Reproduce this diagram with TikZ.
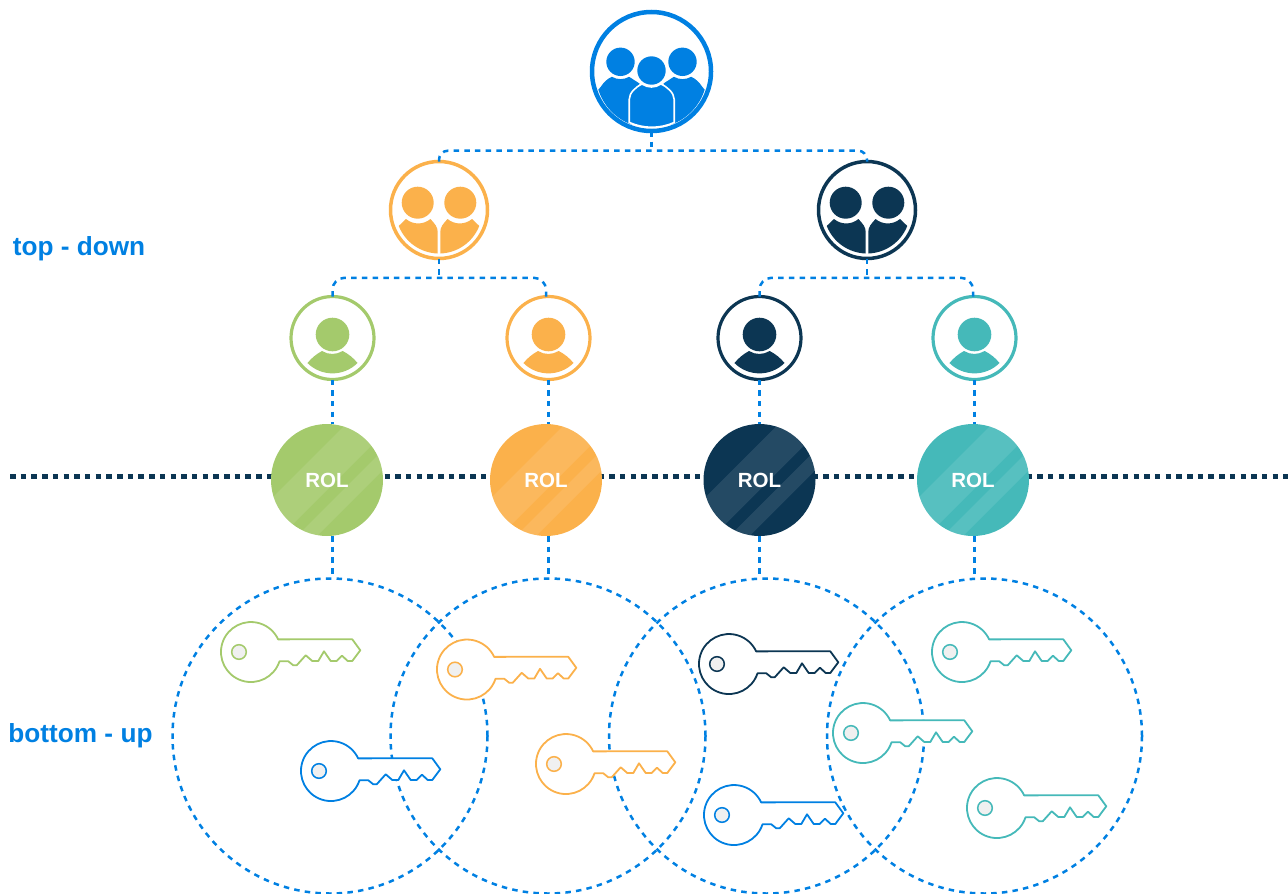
\documentclass[tikz,border=0pt]{standalone}
\usepackage{fontspec}
\setmainfont{Liberation Sans}
\definecolor{rolblue}{HTML}{0080E2}
\definecolor{rolgreen}{HTML}{A4CA6C}
\definecolor{rolorange}{HTML}{FBB14B}
\definecolor{rolnavy}{HTML}{0C3653}
\definecolor{rolteal}{HTML}{45B9B9}
\tikzset{
	usernode/.style={circle,fill=white,inner sep=0,outer sep=0},
	rolnode/.style={circle,inner sep=0,outer sep=0,minimum size=112,text=white,
		font=\fontsize{20.5}{20.5}\selectfont\bfseries},
	zonenode/.style={circle,inner sep=0,outer sep=0,minimum size=315,draw=rolblue,link},
	link/.style={rolblue,line width=2.5,dash pattern=on 5.5 off 5.2},
	divider/.style={rolnavy,line width=5.5,dash pattern=on 5.5 off 5.2},
	sidelabel/.style={rolblue,inner sep=0,font=\fontsize{26.2}{26.2}\selectfont\bfseries}
}
\begin{document}
\begin{tikzpicture}[x=1pt,y=-1pt]
\useasboundingbox (0,0) rectangle (1288,894);
% Divider behind the roles
\coordinate (divleft) at (10,476.5);
\coordinate (divright) at (1288,476.5);
\draw[divider] (divleft) -- (divright);
% Draw group on top
\node[usernode,draw=rolblue,line width=4.5,minimum size=119] (lead) at (651.5,71.5) {};
\begin{scope}[shift={(651.5,71.5)},rolblue]
	\foreach \s in {1,-1} {
		\begin{scope}[xscale=\s]
			\fill (-31,-9.7) circle [radius=14.2];
			\fill (-51,15.7) .. controls (-48,11) and (-44,7) .. (-39.65,5.3)
				arc (120:60:17.3) -- (-12,12) -- (-20,53) arc (110:163:54) -- cycle;
		\end{scope}
	}
	% Draw front person
	\fill[draw=white,line width=1.6] (-22.3,51) -- (-22.3,28)
		.. controls (-22.3,21) and (-15,15) .. (-9.5,12.5)
		arc (125:55:16.5) .. controls (15,15) and (22.7,21) .. (22.7,28)
		-- (22.7,51) arc (66:114:55) -- cycle;
	\fill (0,-1) circle [radius=14.2];
\end{scope}
% Draw the two teams
\foreach \n/\x/\c in {teamA/439/rolorange,teamB/867/rolnavy} {
	\node[usernode,draw=\c,line width=3.5,minimum size=97] (\n) at (\x,210) {};
	\begin{scope}[shift={(\x,210)},\c]
		\foreach \s in {1,-1} {
			\begin{scope}[xscale=\s]
				\fill (-21.3,-7.3) circle [radius=16];
				\fill (-40,15.7) -- (-33,9) arc (130:50:19)
					.. controls (-4,14) and (-1.3,17) .. (-1.3,22)
					-- (-1.3,43.5) arc (92:158:43.5) -- cycle;
			\end{scope}
		}
	\end{scope}
}
% Draw the four users
\foreach \n/\x/\c in {user1/332.5/rolgreen,user2/548.5/rolorange,
	user3/759.5/rolnavy,user4/974.5/rolteal} {
	\node[usernode,draw=\c,line width=3.2,minimum size=83] (\n) at (\x,338) {};
	\begin{scope}[shift={(\x,338)},\c]
		\fill (0,-3.5) circle [radius=16.8];
		\fill (-25,25) .. controls (-21,20) and (-16,16) .. (-10.5,13)
			arc (122:58:19.5) .. controls (16,16) and (21,20) .. (25,25)
			arc (45:135:35.4) -- cycle;
	\end{scope}
}
% Draw roles with their stripes
\foreach \n/\x/\c in {rol1/327/rolgreen,rol2/546/rolorange,
	rol3/759.5/rolnavy,rol4/973/rolteal} {
	\begin{scope}
		\node[rolnode,fill=\c] (\n) at (\x,480) {ROL};
		\clip (\x,480) circle [radius=56];
		\foreach \p/\q in {-37/10,26/46} {
			\fill[white,opacity=.1,shift={(\x,480)}] (-100,\p+100) -- (100,\p-100)
				-- (100,\q-100) -- (-100,\q+100) -- cycle;
		}
	\end{scope}
}
% Draw zones
\node[zonenode] (zone1) at (330,736) {};
\node[zonenode] (zone2) at (548,736) {};
\node[zonenode] (zone3) at (766.5,736) {};
\node[zonenode] (zone4) at (984.5,736) {};
% Draw links
\coordinate (hubA) at (651.5,150.7);
\coordinate (hubB) at (439,277.8);
\coordinate (hubC) at (867,277.8);
\draw[link] (lead.south) -- (hubA);
\draw[link,rounded corners=9] (teamA.north) |- (hubA) -| (teamB.north);
\draw[link] (teamA.south) -- (hubB);
\draw[link,rounded corners=12] (user1.north) |- (hubB) -| ([xshift=-2.5]user2.north);
\draw[link] (teamB.south) -- (hubC);
\draw[link,rounded corners=12] (user3.north) |- (hubC) -| ([xshift=-1.5]user4.north);
\foreach \k in {1,2,3,4} {
	\draw[link] (user\k.south) -- (user\k |- rol\k.north);
	\draw[link] (user\k |- rol\k.south) -- (user\k |- zone\k.north);
}
% Draw keys
\foreach \x/\y/\c in {251/652/rolgreen,331/771/rolblue,467/669.5/rolorange,566/764/rolorange,
	729/664/rolnavy,734/815/rolblue,962/652/rolteal,863/733/rolteal,997/808/rolteal} {
	\begin{scope}[shift={(\x,\y)}]
		% Draw blade
		\draw[\c,fill=white,line width=1.8,line join=round] (28.5,9.3) arc (18:335:30)
			-- (101.3,-12.7) -- (109.3,-1.7) -- (101.3,9) -- (96.7,9) -- (91,3.7)
			-- (85.7,9) -- (79.7,9) -- (73,-.7) -- (67.3,9) -- (61.3,9) -- (54.7,3.3)
			-- (45.7,13.3) -- (42.3,13.3) -- (37.3,9.3) -- cycle;
		% Draw hole
		\draw[\c,fill=black!6,line width=1.5] (-12,0) circle [radius=7.3];
	\end{scope}
}
% Draw side labels
\node[sidelabel] (toplabel) at (79,248.5) {top - down};
\node[sidelabel] (bottomlabel) at (80.5,736) {bottom - up};
\end{tikzpicture}
\end{document}
